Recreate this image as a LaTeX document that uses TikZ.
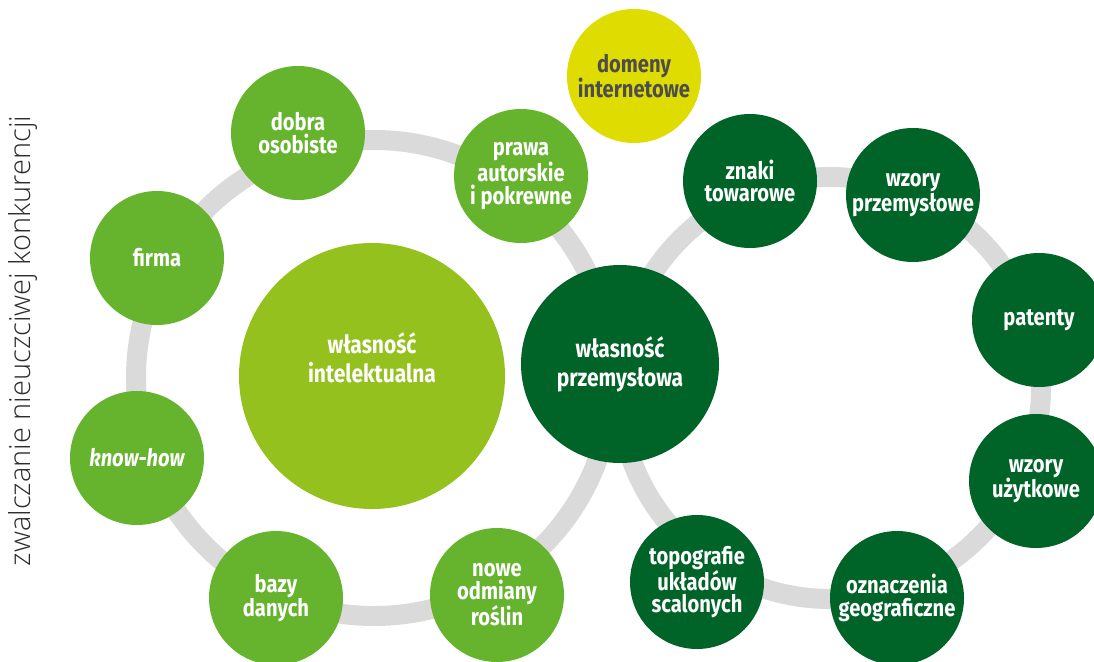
\documentclass[tikz,border=0pt]{standalone}
\usepackage{fontspec}
\setmainfont{Fira Sans}
\newfontfamily\labelfont{Fira Sans}[FakeStretch=0.84]
\IfFontExistsTF{Open Sans Light}
  {\newfontfamily\sidefont{Open Sans Light}}
  {\newfontfamily\sidefont{Open Sans}}
\definecolor{midgreen}{HTML}{66B32E}
\definecolor{limegreen}{HTML}{95C11F}
\definecolor{darkgreen}{HTML}{006428}
\definecolor{domyellow}{HTML}{DEDC00}
\definecolor{ringgray}{HTML}{DADADA}
\definecolor{darktext}{HTML}{4D4D4D}
\definecolor{sidetext}{HTML}{2B2B2A}
\begin{document}
\begin{tikzpicture}[x=1pt, y=-1pt,
  ring/.style={draw=ringgray, line width=20pt},
  bubble/.style={circle, minimum size=134pt, inner sep=0pt, align=center,
    text=white, font=\labelfont\bfseries\fontsize{24}{22.5}\selectfont},
  bigbubble/.style={bubble, font=\labelfont\bfseries\fontsize{25}{29}\selectfont},
  copyright/.style={bubble, fill=midgreen},
  industrial/.style={bubble, fill=darkgreen},
]
\useasboundingbox (0,0) rectangle (1094,661);

% the two grey orbits
\coordinate (leftorbit) at (374,378);
\coordinate (rightorbit) at (830,388);
\draw[ring] (leftorbit) circle[radius=238];
\draw[ring] (rightorbit) circle[radius=211];

% central fields
\node[bigbubble, fill=limegreen, minimum size=266pt] (intel) at (372,376)
  {własność\\intelektualna\\[7pt]};
\node[bigbubble, fill=darkgreen, minimum size=198pt] (industry) at (620,364)
  {własność\\przemysłowa};

% intellectual property branch
\node[copyright] (dobra) at (298,133) {dobra\\osobiste};
\node[copyright] (firma) at (157,258) {firma};
\node[copyright] (prawa) at (521,176) {prawa\\autorskie\\i pokrewne};
\node[copyright] (knowhow) at (137,458) {\itshape know-how};
\node[copyright] (bazy) at (276,598) {bazy\\danych};
\node[copyright] (odmiany) at (497,595) {nowe\\odmiany\\roślin};

% internet domains
\node[bubble, fill=domyellow, text=darktext] (domeny) at (634,76)
  {domeny\\internetowe};

% industrial property branch
\node[industrial] (znaki) at (750,181) {znaki\\towarowe};
\node[industrial] (wzoryp) at (913,195) {wzory\\przemysłowe};
\node[industrial] (patenty) at (1039,320) {patenty};
\node[industrial] (wzoryu) at (1036,481) {wzory\\użytkowe};
\node[industrial] (oznaczenia) at (897,598) {oznaczenia\\geograficzne};
\node[industrial] (topografie) at (697,582) {topografie\\układów\\scalonych};

% vertical caption
\node[rotate=90, text=sidetext, font=\sidefont\fontsize{29}{31}\selectfont,
  inner sep=0pt] (caption) at (23,341) {zwalczanie nieuczciwej konkurencji};
\end{tikzpicture}
\end{document}
